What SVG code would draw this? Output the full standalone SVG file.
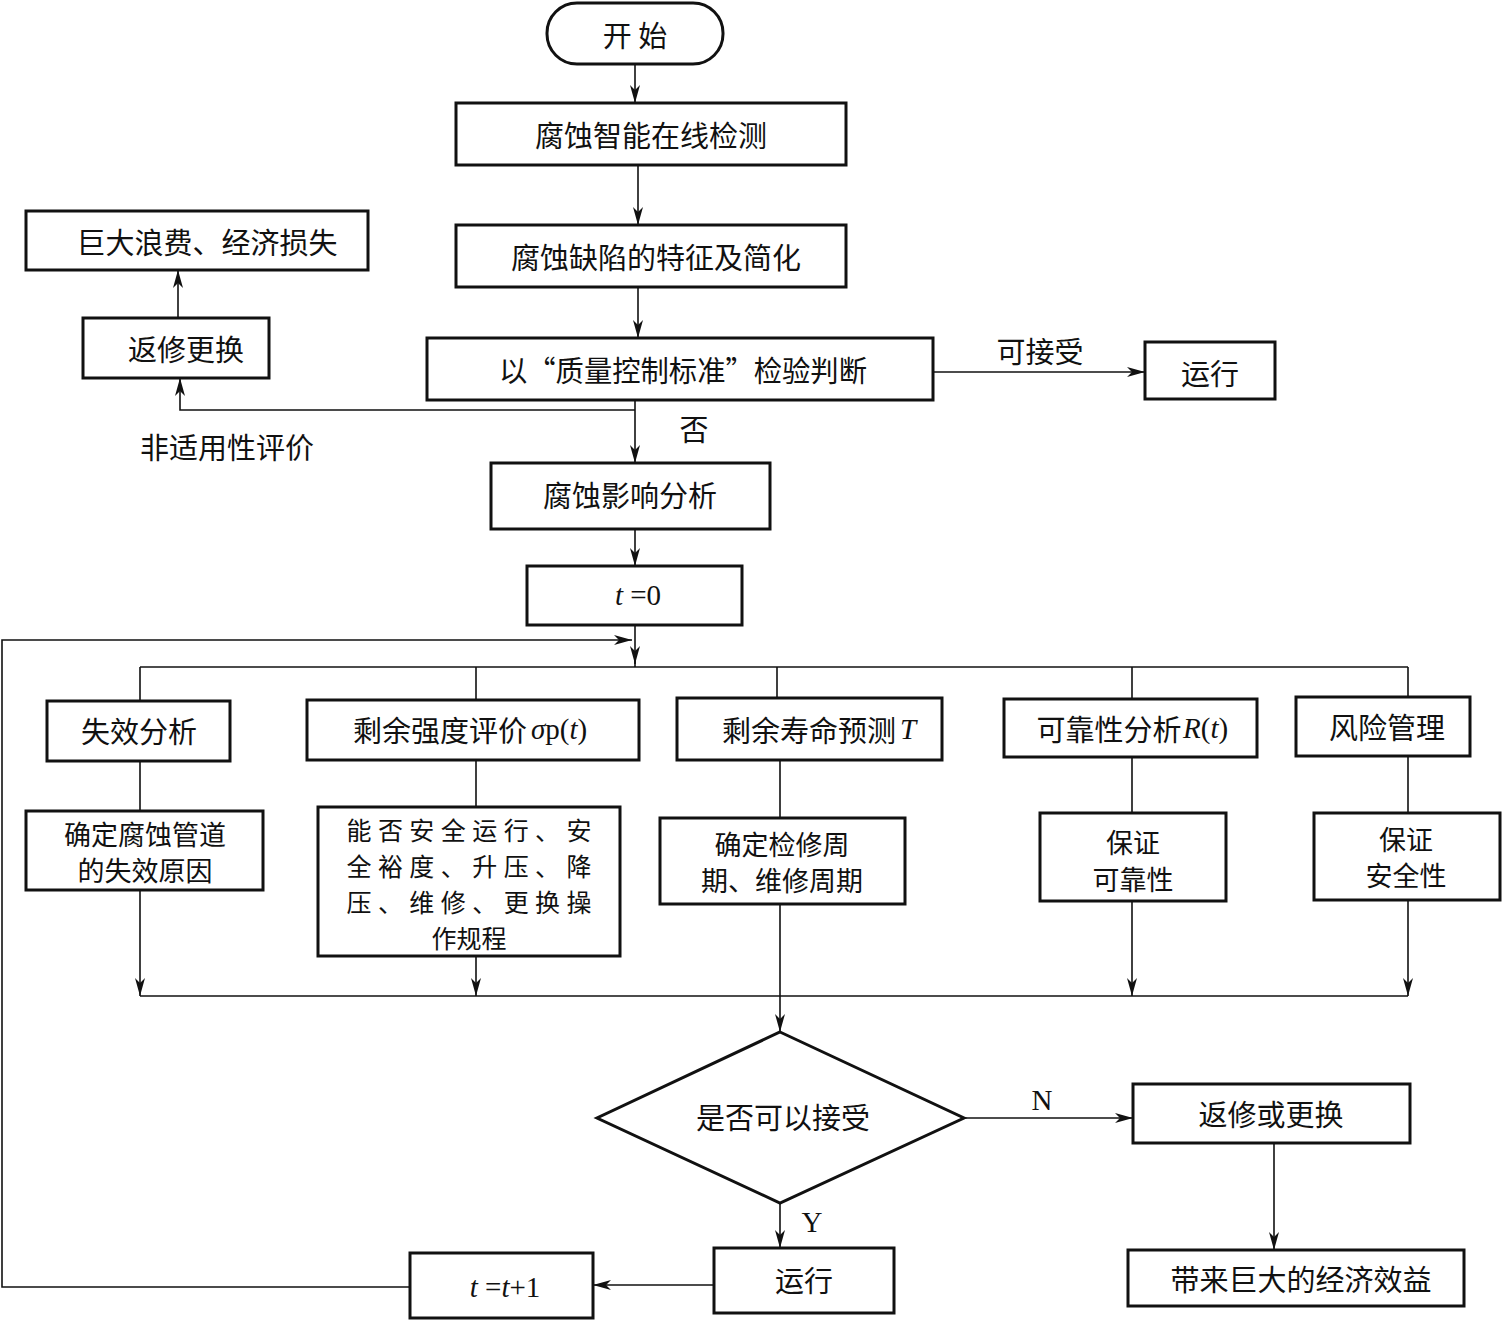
<svg xmlns="http://www.w3.org/2000/svg" width="1506" height="1321" viewBox="0 0 1506 1321">
<defs>
<style>
.box{fill:#fff;stroke:#111;stroke-width:3}
.ln{fill:none;stroke:#111;stroke-width:1.6}
.t{font-family:"Noto Sans CJK SC","Liberation Sans",sans-serif;font-size:29px;fill:#111;text-anchor:middle;dominant-baseline:central}
.m{font-size:27px}
.n{font-size:25px}
.s{font-family:"Liberation Serif",serif;font-size:29px;fill:#111}
.i{font-style:italic}
</style>
<marker id="ah" viewBox="0 0 18 10" refX="18" refY="5" markerWidth="18" markerHeight="10" markerUnits="userSpaceOnUse" orient="auto">
<path d="M0,0 L18,5 L0,10 L5,5 z" fill="#111"/>
</marker>
</defs>
<rect width="1506" height="1321" fill="#fff"/>
<g id="connectors">
<path class="ln" d="M635,64 V103" marker-end="url(#ah)"/>
<path class="ln" d="M638,165 V225" marker-end="url(#ah)"/>
<path class="ln" d="M638,287 V338" marker-end="url(#ah)"/>
<path class="ln" d="M933,372 H1145" marker-end="url(#ah)"/>
<path class="ln" d="M635,400 V463" marker-end="url(#ah)"/>
<path class="ln" d="M635,410 H180 V378" marker-end="url(#ah)"/>
<path class="ln" d="M178,318 V270" marker-end="url(#ah)"/>
<path class="ln" d="M635,529 V566" marker-end="url(#ah)"/>
<path class="ln" d="M635,625 V664" marker-end="url(#ah)"/>
<path class="ln" d="M635,660 V667"/>
<path class="ln" d="M410,1287 H2 V640 H632" marker-end="url(#ah)"/>
<path class="ln" d="M140,667 H1408"/>
<path class="ln" d="M140,667 V701 M476,667 V700 M777,667 V698 M1132,667 V699 M1408,667 V697"/>
<path class="ln" d="M140,761 V811 M476,760 V807 M780,760 V818 M1132,757 V813 M1408,756 V813"/>
<path class="ln" d="M140,890 V996" marker-end="url(#ah)"/>
<path class="ln" d="M476,956 V996" marker-end="url(#ah)"/>
<path class="ln" d="M1132,901 V996" marker-end="url(#ah)"/>
<path class="ln" d="M1408,900 V996" marker-end="url(#ah)"/>
<path class="ln" d="M140,996 H1408"/>
<path class="ln" d="M780,904 V1032" marker-end="url(#ah)"/>
<path class="ln" d="M964,1118 H1133" marker-end="url(#ah)"/>
<path class="ln" d="M1274,1143 V1250" marker-end="url(#ah)"/>
<path class="ln" d="M780,1203 V1248" marker-end="url(#ah)"/>
<path class="ln" d="M714,1285 H593" marker-end="url(#ah)"/>
<text class="t" x="1040" y="350">可接受</text>
<text class="t" x="694" y="428">否</text>
<text class="t" x="227" y="446">非适用性评价</text>
<text class="s" x="1042" y="1110" text-anchor="middle">N</text>
<text class="s" x="812" y="1232" text-anchor="middle">Y</text>
</g>
<g id="start">
<rect class="box" x="547" y="3" width="176" height="61" rx="30" ry="30"/>
<text class="t" x="635" y="34">开 始</text>
</g>
<g id="detect">
<rect class="box" x="456" y="103" width="390" height="62"/>
<text class="t" x="651" y="134">腐蚀智能在线检测</text>
</g>
<g id="feature">
<rect class="box" x="456" y="225" width="390" height="62"/>
<text class="t" x="656" y="256">腐蚀缺陷的特征及简化</text>
</g>
<g id="judge">
<rect class="box" x="427" y="338" width="506" height="62"/>
<text class="t" x="683" y="369" textLength="368" lengthAdjust="spacingAndGlyphs">以“质量控制标准”检验判断</text>
</g>
<g id="run1">
<rect class="box" x="1145" y="342" width="130" height="57"/>
<text class="t" x="1210" y="372">运行</text>
</g>
<g id="waste">
<rect class="box" x="26" y="211" width="342" height="59"/>
<text class="t" x="207" y="241">巨大浪费、经济损失</text>
</g>
<g id="repair1">
<rect class="box" x="83" y="318" width="186" height="60"/>
<text class="t" x="186" y="348">返修更换</text>
</g>
<g id="impact">
<rect class="box" x="491" y="463" width="279" height="66"/>
<text class="t" x="630" y="494">腐蚀影响分析</text>
</g>
<g id="t0">
<rect class="box" x="527" y="566" width="215" height="59"/>
<text class="s" x="638" y="605" text-anchor="middle"><tspan class="i">t</tspan> =0</text>
</g>
<g id="fail">
<rect class="box" x="47" y="701" width="183" height="60"/>
<text class="t" x="139" y="730">失效分析</text>
</g>
<g id="strength">
<rect class="box" x="307" y="700" width="332" height="60"/>
<text class="t" x="440" y="729">剩余强度评价</text>
<text class="s" x="531" y="739"><tspan class="i">σ</tspan>p(<tspan class="i">t</tspan>)</text>
</g>
<g id="life">
<rect class="box" x="677" y="698" width="265" height="62"/>
<text class="t" x="809" y="729">剩余寿命预测</text>
<text class="s i" x="900" y="739">T</text>
</g>
<g id="reliab">
<rect class="box" x="1004" y="699" width="253" height="58"/>
<text class="t" x="1109" y="728">可靠性分析</text>
<text class="s" x="1183" y="738"><tspan class="i">R</tspan>(<tspan class="i">t</tspan>)</text>
</g>
<g id="risk">
<rect class="box" x="1296" y="697" width="174" height="59"/>
<text class="t" x="1387" y="726">风险管理</text>
</g>
<g id="cause">
<rect class="box" x="26" y="811" width="237" height="79"/>
<text class="t m" x="145" y="833">确定腐蚀管道</text>
<text class="t m" x="145" y="869">的失效原因</text>
</g>
<g id="safe-op">
<rect class="box" x="318" y="807" width="302" height="149"/>
<text class="t n" x="469" y="829" textLength="245">能否安全运行、安</text>
<text class="t n" x="469" y="865" textLength="245">全裕度、升压、降</text>
<text class="t n" x="469" y="901" textLength="245">压、维修、更换操</text>
<text class="t n" x="469" y="937">作规程</text>
</g>
<g id="period">
<rect class="box" x="660" y="818" width="245" height="86"/>
<text class="t m" x="782" y="843">确定检修周</text>
<text class="t m" x="782" y="879">期、维修周期</text>
</g>
<g id="ens-rel">
<rect class="box" x="1040" y="813" width="186" height="88"/>
<text class="t m" x="1133" y="841">保证</text>
<text class="t m" x="1133" y="878">可靠性</text>
</g>
<g id="ens-safe">
<rect class="box" x="1314" y="813" width="186" height="87"/>
<text class="t m" x="1406" y="838">保证</text>
<text class="t m" x="1406" y="874">安全性</text>
</g>
<g id="decision">
<polygon class="box" points="780,1032 964,1118 780,1203 597,1118"/>
<text class="t" x="783" y="1116">是否可以接受</text>
</g>
<g id="repair2">
<rect class="box" x="1133" y="1084" width="277" height="59"/>
<text class="t" x="1271" y="1113">返修或更换</text>
</g>
<g id="benefit">
<rect class="box" x="1128" y="1250" width="336" height="56"/>
<text class="t" x="1301" y="1278">带来巨大的经济效益</text>
</g>
<g id="run2">
<rect class="box" x="714" y="1248" width="180" height="65"/>
<text class="t" x="804" y="1279">运行</text>
</g>
<g id="tinc">
<rect class="box" x="410" y="1253" width="183" height="65"/>
<text class="s" x="505" y="1297" text-anchor="middle"><tspan class="i">t</tspan> =<tspan class="i">t</tspan>+1</text>
</g>
</svg>
